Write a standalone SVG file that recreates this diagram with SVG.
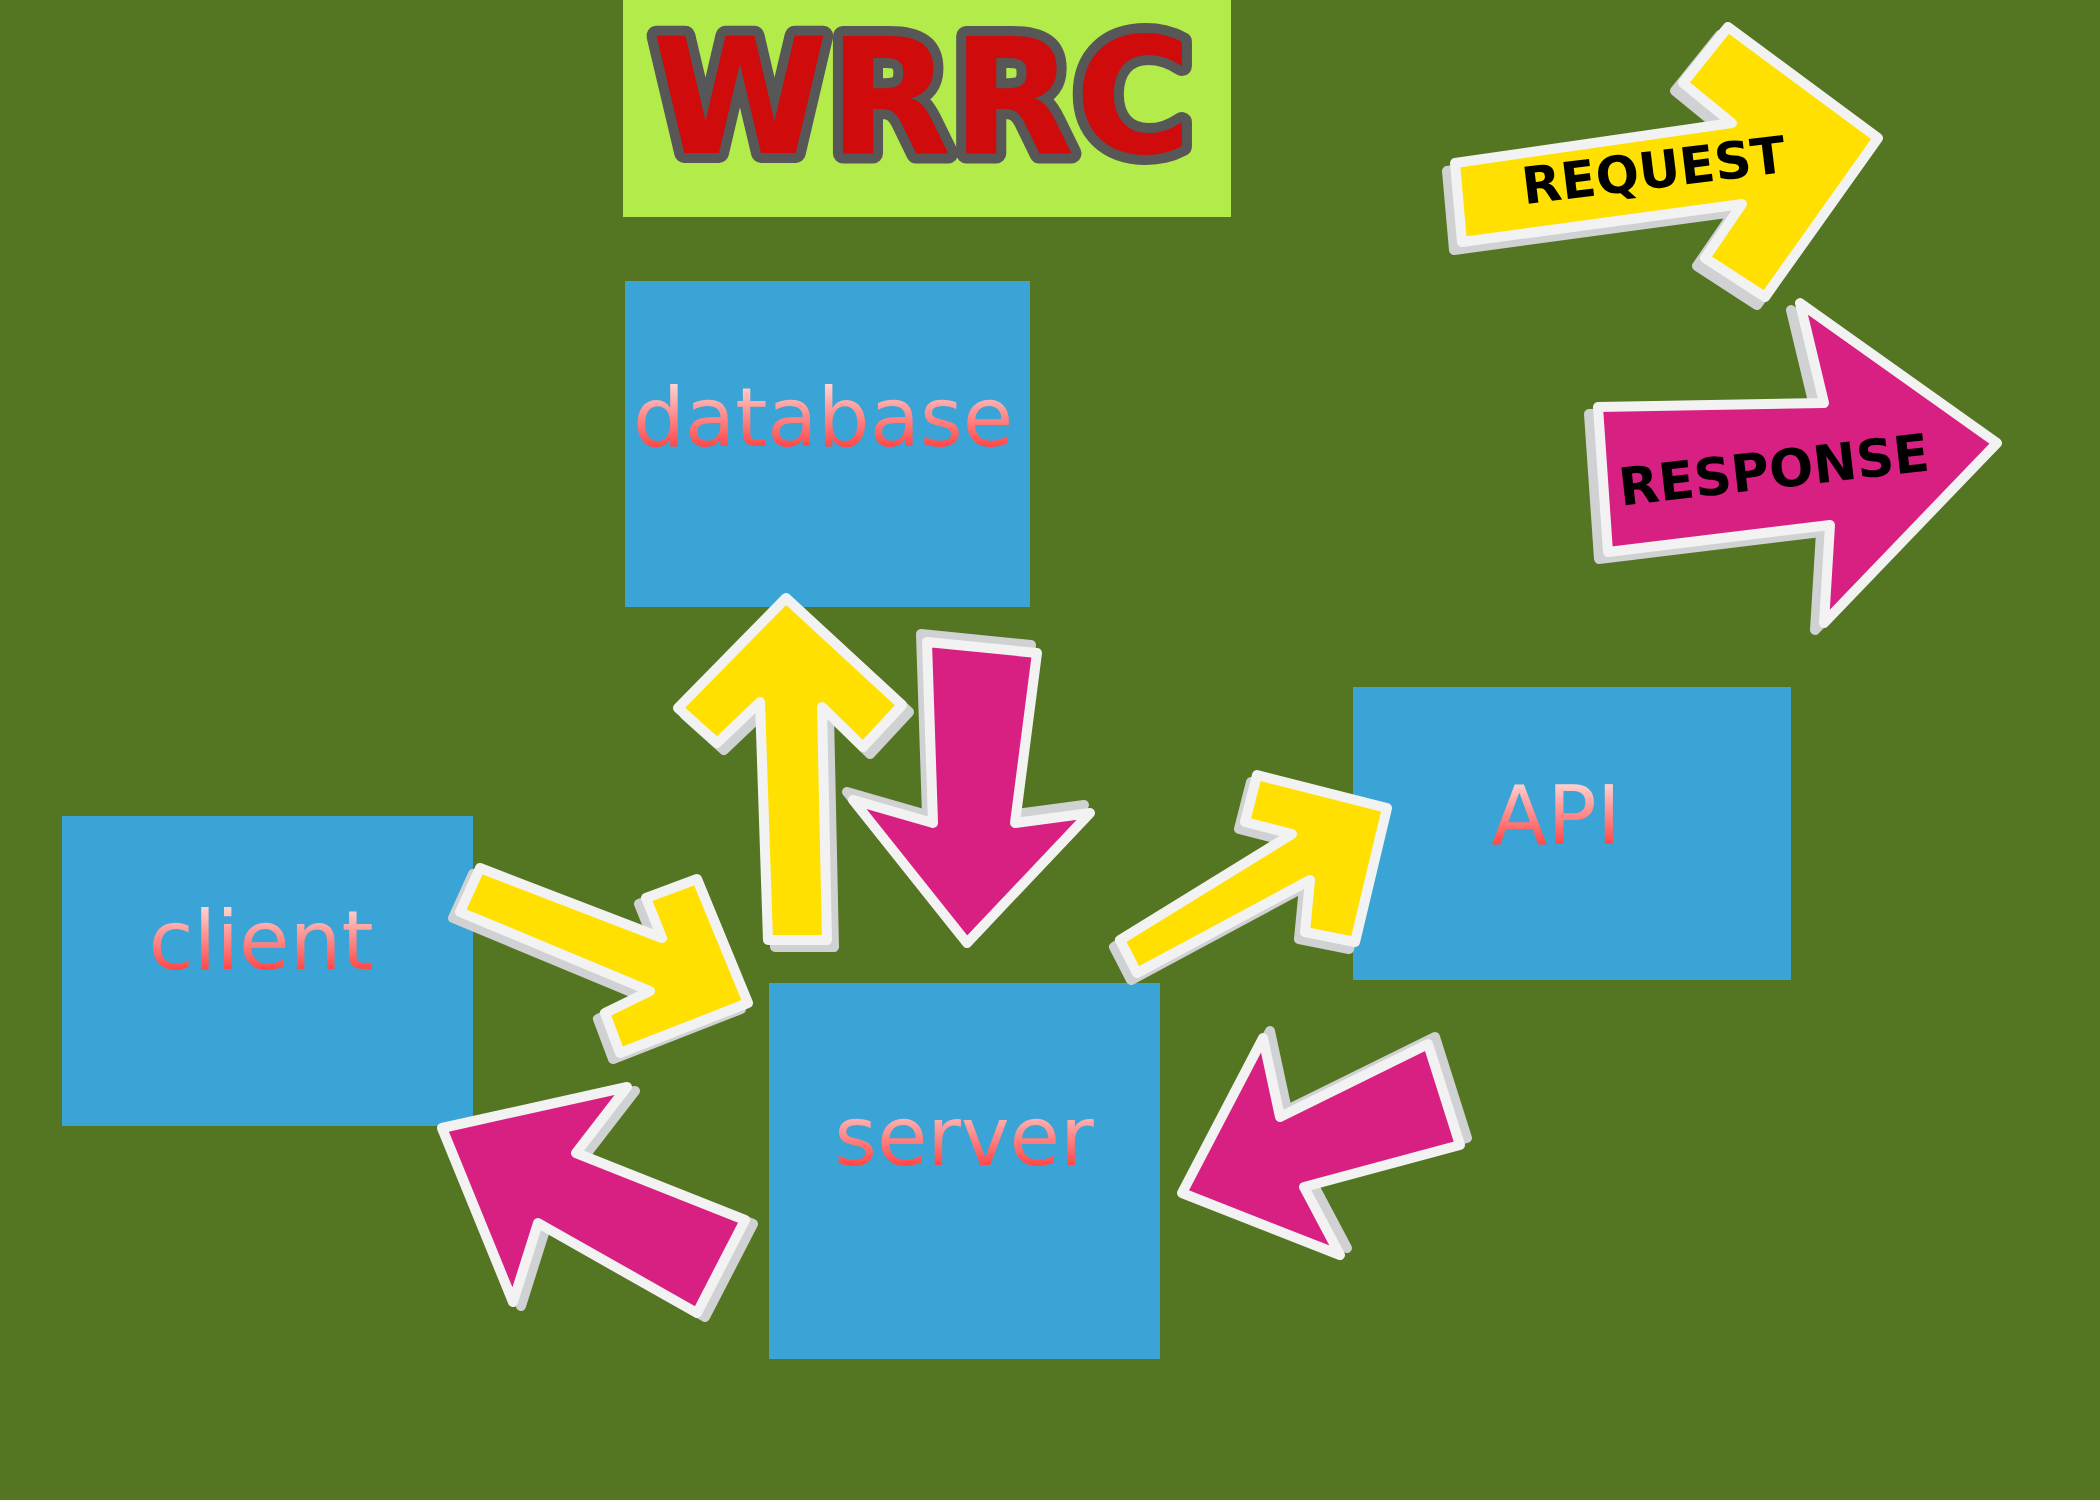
<svg xmlns="http://www.w3.org/2000/svg" xmlns:xlink="http://www.w3.org/1999/xlink" width="2100" height="1500" viewBox="0 0 2100 1500">
<style>
.box{fill:#39a4d5}
.lbl{font-family:"DejaVu Sans","Liberation Sans",sans-serif;font-size:82px;fill:url(#pinkg);text-anchor:middle}
.sh{fill:#cfd1d3;stroke:#cfd1d3;stroke-width:10;stroke-linejoin:round}
.yl{fill:#ffe000;stroke:#f2f2f2;stroke-width:10;stroke-linejoin:round}
.mg{fill:#d82082;stroke:#f2f2f2;stroke-width:10;stroke-linejoin:round}
.tag{font-family:"DejaVu Sans","Liberation Sans",sans-serif;font-weight:bold;fill:#000;text-anchor:middle}
</style>
<defs>
<linearGradient id="pinkg" x1="0" y1="0" x2="0" y2="1">
<stop offset="0.14" stop-color="#ffd6d6"/>
<stop offset="0.42" stop-color="#ff9898"/>
<stop offset="0.8" stop-color="#ff4848"/>
</linearGradient>
<polygon id="pUp" points="786,598 902,705 863,747 822,707 827,940 768,940 760,702 717,743 678,708"/>
<polygon id="pDown" points="927,642 1037,653 1015,823 1090,813 967,943 853,800 933,823"/>
<polygon id="pCS" points="480,868 662,938 646,898 697,879 748,1003 620,1053 605,1013 650,991 460,912"/>
<polygon id="pSC" points="442,1128 627,1087 576,1153 745,1220 697,1313 538,1223 513,1302"/>
<polygon id="pSA" points="1120,940 1292,834 1245,822 1257,775 1387,808 1355,942 1305,932 1310,880 1137,973"/>
<polygon id="pAS" points="1263,1038 1280,1117 1428,1044 1460,1145 1304,1187 1340,1255 1182,1193"/>
<polygon id="pReq" points="1455,163 1732,123 1683,83 1728,27 1878,138 1765,297 1705,258 1742,204 1462,242"/>
<polygon id="pRes" points="1598,407 1824,403 1800,303 1997,443 1824,623 1830,525 1608,552"/>
</defs>
<rect x="0" y="0" width="2100" height="1500" fill="#547521"/>

<g id="title">
<rect x="623" y="0" width="608" height="217" fill="#b3eb4b"/>
<text x="922" y="153" font-family="DejaVu Sans, Liberation Sans, sans-serif" font-weight="bold" font-size="160" text-anchor="middle" fill="#cf0b0b" stroke="#575757" stroke-width="20" stroke-linejoin="round" paint-order="stroke">WRRC</text>
</g>

<g id="database">
<rect class="box" x="625" y="281" width="405" height="326"/>
<text class="lbl" x="823" y="446">database</text>
</g>
<g id="client">
<rect class="box" x="62" y="816" width="411" height="310"/>
<text class="lbl" x="261" y="969">client</text>
</g>
<g id="server">
<rect class="box" x="769" y="983" width="391" height="376"/>
<text class="lbl" x="964" y="1165">server</text>
</g>
<g id="api">
<rect class="box" x="1353" y="687" width="438" height="293"/>
<text class="lbl" x="1556" y="844">API</text>
</g>

<g id="connectors">
<g id="server-to-database">
<use xlink:href="#pUp" class="sh" transform="translate(7,7)"/>
<use xlink:href="#pUp" class="yl"/>
</g>
<g id="database-to-server">
<use xlink:href="#pDown" class="sh" transform="translate(-6,-8)"/>
<use xlink:href="#pDown" class="mg"/>
</g>
<g id="client-to-server">
<use xlink:href="#pCS" class="sh" transform="translate(-7,6)"/>
<use xlink:href="#pCS" class="yl"/>
</g>
<g id="server-to-client">
<use xlink:href="#pSC" class="sh" transform="translate(8,4)"/>
<use xlink:href="#pSC" class="mg"/>
</g>
<g id="server-to-api">
<use xlink:href="#pSA" class="sh" transform="translate(-6,7)"/>
<use xlink:href="#pSA" class="yl"/>
</g>
<g id="api-to-server">
<use xlink:href="#pAS" class="sh" transform="translate(7,-7)"/>
<use xlink:href="#pAS" class="mg"/>
</g>
</g>

<g id="legend-request">
<use xlink:href="#pReq" class="sh" transform="translate(-8,8)"/>
<use xlink:href="#pReq" class="yl"/>
<text class="tag" x="1656" y="188" font-size="51" transform="rotate(-7 1656 188)">REQUEST</text>
</g>
<g id="legend-response">
<use xlink:href="#pRes" class="sh" transform="translate(-9,7)"/>
<use xlink:href="#pRes" class="mg"/>
<text class="tag" x="1776" y="488" font-size="52" transform="rotate(-6.5 1776 488)">RESPONSE</text>
</g>
</svg>
